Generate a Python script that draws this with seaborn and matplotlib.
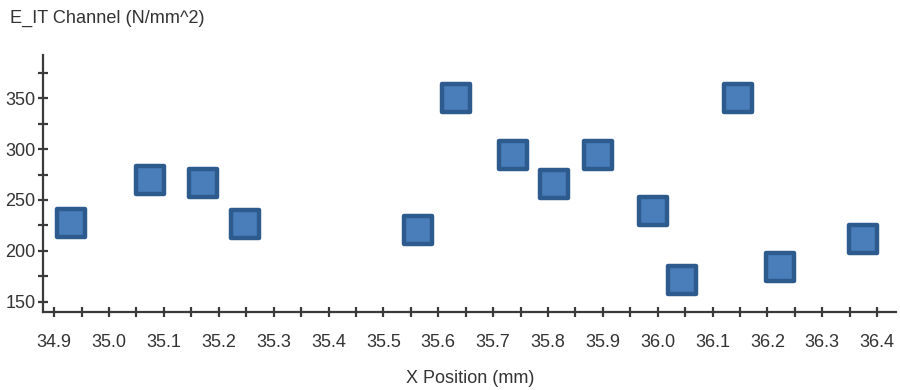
import matplotlib
matplotlib.use("Agg")
import matplotlib.pyplot as plt
from matplotlib.ticker import MultipleLocator
import pandas as pd
import seaborn as sns

# Measured indentation modulus along the channel
x_position_mm = [34.93, 35.075, 35.172, 35.247, 35.564, 35.633, 35.736,
                 35.811, 35.891, 35.992, 36.044, 36.147, 36.222, 36.374]
e_it_channel = [227, 270, 267, 226, 220, 350, 294,
                266, 294, 239, 171, 350, 184, 212]

x_ticks = [34.9, 35.0, 35.1, 35.2, 35.3, 35.4, 35.5, 35.6,
           35.7, 35.8, 35.9, 36.0, 36.1, 36.2, 36.3, 36.4]
y_ticks = [150, 200, 250, 300, 350]

df = pd.DataFrame({"x": x_position_mm, "e": e_it_channel})

sns.set_theme(style="white")
plt.rcParams["font.family"] = ["Liberation Sans", "DejaVu Sans"]

fig = plt.figure(figsize=(9, 3.9), dpi=100)
ax = fig.add_axes([0.048, 0.199, 0.948, 0.660])

sns.scatterplot(data=df, x="x", y="e", ax=ax, marker="s", s=430,
                color="#4A7EBB", edgecolor="#2E5B8E", linewidth=3.2,
                zorder=3)
for coll in ax.collections:
    coll.set_joinstyle("round")

ax.set_xlim(34.88, 36.435)
ax.set_ylim(139.4, 392.6)

ax.set_xticks(x_ticks)
ax.set_xticklabels([f"{v:.1f}" for v in x_ticks])
ax.xaxis.set_minor_locator(MultipleLocator(0.05))
ax.set_yticks(y_ticks)
ax.set_yticklabels([str(v) for v in y_ticks])
ax.yaxis.set_minor_locator(MultipleLocator(25))

axis_col = "#3a3a3a"
for side in ("top", "right"):
    ax.spines[side].set_visible(False)
for side in ("left", "bottom"):
    ax.spines[side].set_color(axis_col)
    ax.spines[side].set_linewidth(1.6)

ax.tick_params(axis="both", which="both", bottom=True, left=True,
               direction="inout", length=7, width=1.6, color=axis_col,
               labelcolor="#333333", labelsize=13)
ax.tick_params(axis="x", which="major", pad=12)
ax.tick_params(axis="y", which="major", pad=2)

ax.set_xlabel("X Position (mm)", fontsize=13, color="#333333", labelpad=14)
ax.set_ylabel("")
fig.text(0.011, 0.952, "E_IT Channel (N/mm^2)", fontsize=13.1,
         color="#333333", ha="left", va="center")

ax.grid(False)
fig.savefig("out.png", dpi=100, facecolor="white")
